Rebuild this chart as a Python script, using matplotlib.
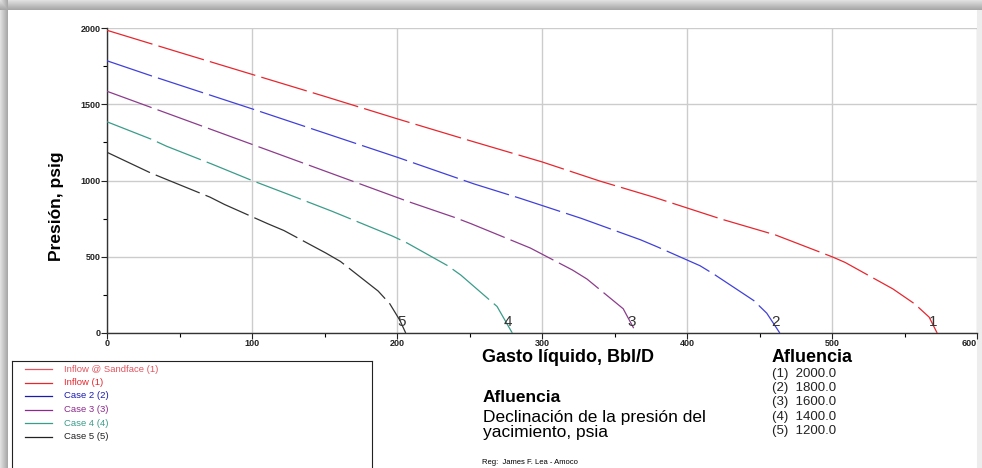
import matplotlib.pyplot as plt
import numpy as np

plt.rcParams['font.family'] = ['Liberation Sans', 'DejaVu Sans']

# liquid rate (Bbl/D) vs pressure (psig)
q1 = [0, 50, 100, 150, 200, 250, 300, 340, 377, 424, 461, 500, 509, 542, 557, 567, 572.5]
p1 = [1985, 1840, 1696, 1552, 1405, 1262, 1122, 996, 891, 746, 643, 500, 463, 289, 191, 104, 0]
q2 = [0, 31, 100, 200, 253, 285, 327, 368, 379, 409, 419, 446, 455, 464]
p2 = [1785, 1685, 1470, 1153, 978, 883, 752, 611, 567, 441, 383, 213, 130, 0]
q3 = [0, 50, 100, 150, 208, 240, 251, 281, 292, 321, 331, 356, 365]
p3 = [1585, 1411, 1237, 1063, 861, 757, 717, 600, 557, 413, 354, 159, 0]
q4 = [0, 31, 41, 72, 100, 124, 155, 165, 197, 207, 235, 244, 269, 279.5]
p4 = [1385, 1269, 1225, 1109, 1000, 913, 799, 760, 635, 590, 441, 380, 174, 0]
q5 = [0, 30, 40, 71, 81, 111, 122, 151, 161, 187, 195, 202, 206]
p5 = [1185, 1050, 1011, 891, 843, 716, 672, 524, 469, 275, 192, 83, 0]

curve_ids = ['1', '2', '3', '4', '5']
legend_names = ['Inflow @ Sandface (1)', 'Inflow (1)', 'Case 2 (2)', 'Case 3 (3)',
                'Case 4 (4)', 'Case 5 (5)']
reservoir_p = [2000.0, 1800.0, 1600.0, 1400.0, 1200.0]

colors = ['#e8262e', '#4040dc', '#8c3c8c', '#3a9c8a', '#333333']
legend_colors = ['#e25560', '#e8262e', '#1a1ab0', '#8c2a8c', '#3a9c8a', '#222222']

fig = plt.figure(figsize=(9.82, 4.68), dpi=100)

# shadowed card background
bg = fig.add_axes([0, 0, 1, 1], zorder=-10)
bg.set_axis_off()
H, W = 468, 982
yy = np.arange(H)[:, None] * np.ones((1, W))
xx = np.arange(W)[None, :] * np.ones((H, 1))
shade_top = np.where(yy < 10, 0.88 - 0.25 * (yy / 10.0), 1.0)
shade_left = np.where(xx < 8, 0.88 - 0.25 * (xx / 8.0), 1.0)
shade_right = np.where(xx > W - 6, 0.93, 1.0)
img = np.minimum(np.minimum(shade_top, shade_left), shade_right)
bg.imshow(img, cmap='gray', vmin=0, vmax=1, aspect='auto', extent=[0, 1, 0, 1])
bg.set_xlim(0, 1)
bg.set_ylim(0, 1)

ax = fig.add_axes([107 / 982, 1 - 333 / 468, 870 / 982, 305 / 468])
ax.set_xlim(0, 600)
ax.set_ylim(0, 2000)

dash = (0, (38, 5))
curves = [(q1, p1), (q2, p2), (q3, p3), (q4, p4), (q5, p5)]
for (q, p), c, cid in zip(curves, colors, curve_ids):
    ax.plot(q, p, color=c, lw=0.9, linestyle=dash, zorder=3)
    ax.text(q[-1] - 3, 75, cid, color='#333333', fontsize=11, ha='center', va='center', zorder=4)

ax.set_xticks(np.arange(0, 601, 100))
ax.set_yticks(np.arange(0, 2001, 500))
ax.set_xticks(np.arange(0, 601, 50), minor=True)
ax.set_yticks(np.arange(0, 2001, 250), minor=True)
ax.grid(True, which='major', color='#cccccc', lw=1.0)
ax.tick_params(axis='both', which='major', labelsize=6.5, length=4, width=0.8, pad=0.5, colors='#222222')
ax.tick_params(axis='both', which='minor', length=3, width=0.8)
for lab in ax.get_xticklabels() + ax.get_yticklabels():
    lab.set_fontweight('bold')
ax.get_xticklabels()[-1].set_horizontalalignment('right')
for s in ['top', 'right']:
    ax.spines[s].set_visible(False)
for s in ['left', 'bottom']:
    ax.spines[s].set_color('#333333')
    ax.spines[s].set_linewidth(1.0)
fig.text(56 / 982, 1 - 206 / 468, 'Presión, psig', fontsize=12.5, fontweight='bold',
         rotation=90, ha='center', va='center')

# legend box
lg = fig.add_axes([12 / 982, 0, 360 / 982, 107 / 468])
lg.set_xlim(0, 360)
lg.set_ylim(107, 0)
lg.set_xticks([])
lg.set_yticks([])
for s in ['top', 'left', 'right']:
    lg.spines[s].set_color('#222222')
lg.spines['bottom'].set_visible(False)
for i, (name, c) in enumerate(zip(legend_names, legend_colors)):
    y = 8 + i * 13.5
    lg.plot([13, 40], [y, y], color=c, lw=0.9)
    lg.text(52, y, name, color=c, fontsize=6.8, va='center', ha='left')

fig.text(482 / 982, 1 - 358 / 468, 'Gasto líquido, Bbl/D', fontsize=13, fontweight='bold',
         ha='left', va='center')
fig.text(483 / 982, 1 - 397 / 468, 'Afluencia', fontsize=12.5, fontweight='bold',
         ha='left', va='center')
fig.text(483 / 982, 1 - 425 / 468, 'Declinación de la presión del\nyacimiento, psia', fontsize=12.5,
         ha='left', va='center', linespacing=0.95)
fig.text(482 / 982, 1 - 462 / 468, 'Reg:  James F. Lea - Amoco', fontsize=5.5, ha='left', va='center')

fig.text(772 / 982, 1 - 358 / 468, 'Afluencia', fontsize=13, fontweight='bold', ha='left', va='center')
for i, (cid, pr) in enumerate(zip(curve_ids, reservoir_p)):
    fig.text(772 / 982, 1 - (374 + i * 14.2) / 468, f'({cid})  {pr:.1f}', fontsize=9.5,
             color='#222222', ha='left', va='center')

fig.savefig('out.png', dpi=100)
